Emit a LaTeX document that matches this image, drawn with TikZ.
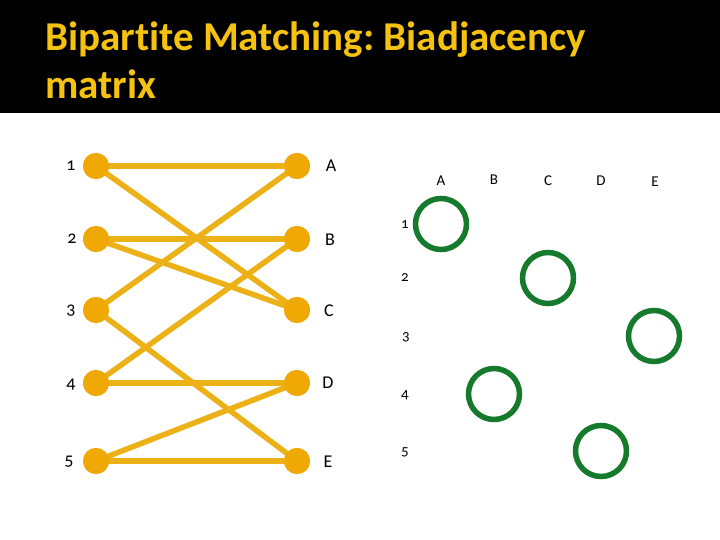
\documentclass[tikz,border=0pt]{standalone}
\usepackage{fontspec}
\setmainfont{Carlito}[Numbers=OldStyle,Ligatures=NoCommon]
\frenchspacing
\definecolor{gold}{HTML}{F5C20F}
\definecolor{edgec}{HTML}{EDB118}
\definecolor{nodec}{HTML}{F0A804}
\definecolor{ringc}{HTML}{167A2C}
\tikzset{
  vtx/.style={circle, fill=nodec, minimum size=26pt, inner sep=0pt},
  edg/.style={draw=edgec, line width=5.5pt},
  lbl/.style={font=\fontsize{18}{20}\selectfont, text=black, inner sep=0pt},
  mlbl/.style={font=\fontsize{15}{18}\selectfont, text=black, inner sep=0pt},
  ring/.style={circle, draw=ringc, line width=5.5pt, minimum size=51pt, inner sep=0pt},
  ttl/.style={anchor=base west, inner sep=0pt, text=gold, font=\fontsize{41}{46}\selectfont\bfseries},
}
\begin{document}
\begin{tikzpicture}[x=1pt,y=-1pt]
\useasboundingbox (0,0) rectangle (720,540);
\fill[white] (0,0) rectangle (720,540);
\fill[black] (0,0) rectangle (720,113);
\node[ttl] (t1) at (45,51) {Bipartite Matching: Biadjacency};
\node[ttl] (t2) at (45,99) {matrix};
% vertices
\node[vtx] (n1) at (96,166) {};
\node[vtx] (n2) at (96,239) {};
\node[vtx] (n3) at (96,310) {};
\node[vtx] (n4) at (96,383) {};
\node[vtx] (n5) at (96,461) {};
\node[vtx] (nA) at (297,166) {};
\node[vtx] (nB) at (297,239) {};
\node[vtx] (nC) at (297,310) {};
\node[vtx] (nD) at (297,383) {};
\node[vtx] (nE) at (297,461) {};
% edges
\draw[edg] (n1.center) -- (nA.center);
\draw[edg] (n1.center) -- (nC.center);
\draw[edg] (n2.center) -- (nB.center);
\draw[edg] (n2.center) -- (nC.center);
\draw[edg] (n3.center) -- (nA.center);
\draw[edg] (n3.center) -- (nE.center);
\draw[edg] (n4.center) -- (nB.center);
\draw[edg] (n4.center) -- (nD.center);
\draw[edg] (n5.center) -- (nD.center);
\draw[edg] (n5.center) -- (nE.center);
\foreach \n in {n1,n2,n3,n4,n5,nA,nB,nC,nD,nE} {\fill[nodec] (\n) circle (13);}
% labels
\node[lbl] (l1) at (71,166) {1};
\node[lbl] (l2) at (72,239) {2};
\node[lbl] (l3) at (71,311) {3};
\node[lbl] (l4) at (71,385) {4};
\node[lbl] (l5) at (69,462) {5};
\node[lbl] (lA) at (331,166) {A};
\node[lbl] (lB) at (330,240) {B};
\node[lbl] (lC) at (329,311) {C};
\node[lbl] (lD) at (328,383) {D};
\node[lbl] (lE) at (328,462) {E};
% matrix labels
\node[mlbl] (cA) at (441,181) {A};
\node[mlbl] (cB) at (494,180) {B};
\node[mlbl] (cC) at (548,181) {C};
\node[mlbl] (cD) at (601,181) {D};
\node[mlbl] (cE) at (655,182) {E};
\node[mlbl] (r1) at (405,225) {1};
\node[mlbl] (r2) at (405,278) {2};
\node[mlbl] (r3) at (406,337) {3};
\node[mlbl] (r4) at (405,395) {4};
\node[mlbl] (r5) at (405,452) {5};
% rings
\node[ring] (m1) at (441,224) {};
\node[ring] (m2) at (548,278) {};
\node[ring] (m3) at (654,336) {};
\node[ring] (m4) at (494,394) {};
\node[ring] (m5) at (601,451) {};
\end{tikzpicture}
\end{document}
